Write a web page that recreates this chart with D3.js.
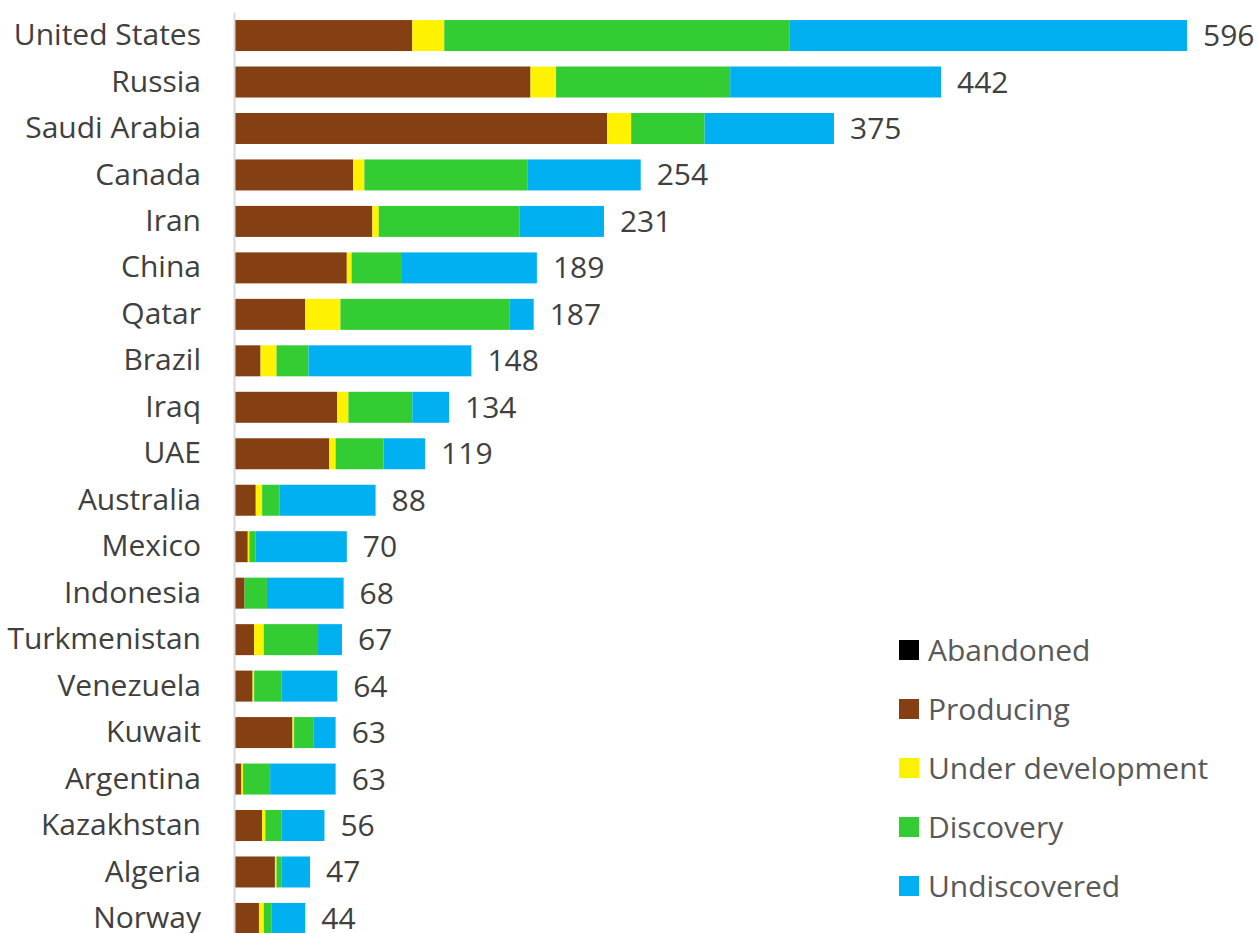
<!DOCTYPE html>
<html lang='en'>
	<head>
		<title>Recoverable resources by country</title>
		<script type='text/javascript' src='https://cdn.jsdelivr.net/npm/d3@7/dist/d3.min.js'></script>
		<style>
			body { margin: 0; background: #ffffff; }
			text { font-family: 'Open Sans', sans-serif; }
		</style>
	</head>
	<body>
		<script type='text/javascript'>
			var countries = ['United States','Russia','Saudi Arabia','Canada','Iran','China','Qatar','Brazil','Iraq','UAE',
				'Australia','Mexico','Indonesia','Turkmenistan','Venezuela','Kuwait','Argentina','Kazakhstan','Algeria','Norway'];
			var abandoned     = [0,0,0,0,0,0,0,0,0,0,0,0,0,0,0,0,0,0,0,0];
			var producing     = [111,185,233,74,86,70,44,16,64,59,13,8,6,12,11,36,4,17,25,15];
			var underDev      = [20,16,15,7,4,3,22,10,7,4,4,1,0,6,1,1,1,2,1,3];
			var discovery     = [216,109,46,102,88,31,106,20,40,30,11,4,14,34,17,12,17,10,3,5];
			var undiscovered  = [249,132,81,71,53,85,15,102,23,26,60,57,48,15,35,14,41,27,18,21];
			var totals        = [596,442,375,254,231,189,187,148,134,119,88,70,68,67,64,63,63,56,47,44];

			var seriesNames  = ['Abandoned','Producing','Under development','Discovery','Undiscovered'];
			var seriesColors = ['#000000','#843f13','#fff200','#33cc33','#00b0f0'];

			var width = 1258, height = 933;
			var svg_elem = d3.select('body').append('svg').attr('width', width).attr('height', height);

			var rows = countries.map(function(c, i) {
				return { country: c, Abandoned: abandoned[i], Producing: producing[i], 'Under development': underDev[i],
					Discovery: discovery[i], Undiscovered: undiscovered[i], total: totals[i] };
			});

			var x = d3.scaleLinear().domain([0, 596]).range([235, 1187]);
			var y = d3.scaleBand().domain(countries).range([12.3, 941.7]).paddingInner(0.333).paddingOuter(0.1667);
			var color = d3.scaleOrdinal().domain(seriesNames).range(seriesColors);

			var stacked = d3.stack().keys(seriesNames)(rows);

			svg_elem.append('g').selectAll('g').data(stacked).enter().append('g')
				.attr('fill', d => color(d.key))
				.selectAll('rect').data(d => d).enter().append('rect')
				.attr('x', d => x(d[0]))
				.attr('y', d => y(d.data.country))
				.attr('width', d => x(d[1]) - x(d[0]))
				.attr('height', y.bandwidth());

			// left axis line, no ticks
			var yAxis = svg_elem.append('g')
				.attr('transform', 'translate(234,0)')
				.call(d3.axisLeft(y).tickSize(0).tickPadding(33));
			yAxis.select('.domain').attr('stroke', '#d9d9d9').attr('stroke-width', 2);
			yAxis.selectAll('text')
				.style('font-family', "'Open Sans', sans-serif")
				.attr('font-size', 30).attr('fill', '#404040');

			// value labels
			svg_elem.append('g').selectAll('text').data(rows).enter().append('text')
				.attr('x', d => x(d.total) + 16)
				.attr('y', d => y(d.country) + y.bandwidth() / 2)
				.attr('dy', '0.35em')
				.attr('font-size', 30)
				.attr('fill', '#404040')
				.text(d => d.total);

			// legend
			var legend = svg_elem.append('g').selectAll('g').data(seriesNames).enter().append('g')
				.attr('transform', (d, i) => 'translate(899,' + (650 + i * 59) + ')');
			legend.append('rect').attr('x', 0).attr('y', -10).attr('width', 20).attr('height', 20)
				.attr('fill', d => color(d));
			legend.append('text').attr('x', 29).attr('dy', '0.35em')
				.attr('font-size', 30).attr('fill', '#595959')
				.text(d => d);
		</script>
	</body>
</html>
